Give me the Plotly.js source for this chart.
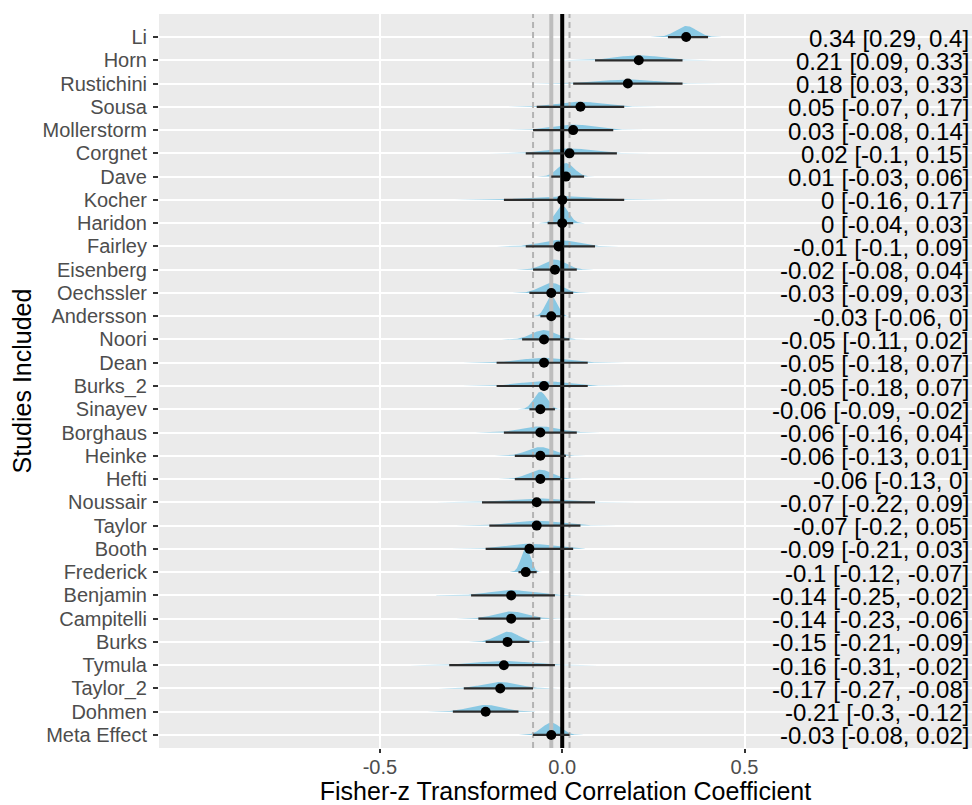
<!DOCTYPE html>
<html>
<head>
<meta charset="utf-8">
<script src="https://cdn.plot.ly/plotly-3.0.1.min.js"></script>
<style>html,body{margin:0;padding:0;background:#fff;}#chart{width:972px;height:805px;}</style>
</head>
<body>
<div id="chart"></div>
<script>
const studies = ["Li","Horn","Rustichini","Sousa","Mollerstorm","Corgnet","Dave","Kocher","Haridon","Fairley","Eisenberg","Oechssler","Andersson","Noori","Dean","Burks_2","Sinayev","Borghaus","Heinke","Hefti","Noussair","Taylor","Booth","Frederick","Benjamin","Campitelli","Burks","Tymula","Taylor_2","Dohmen","Meta Effect"];
const estimates = [0.34,0.21,0.18,0.05,0.03,0.02,0.01,0,0,-0.01,-0.02,-0.03,-0.03,-0.05,-0.05,-0.05,-0.06,-0.06,-0.06,-0.06,-0.07,-0.07,-0.09,-0.1,-0.14,-0.14,-0.15,-0.16,-0.17,-0.21,-0.03];
const lower = [0.29,0.09,0.03,-0.07,-0.08,-0.1,-0.03,-0.16,-0.04,-0.1,-0.08,-0.09,-0.06,-0.11,-0.18,-0.18,-0.09,-0.16,-0.13,-0.13,-0.22,-0.2,-0.21,-0.12,-0.25,-0.23,-0.21,-0.31,-0.27,-0.3,-0.08];
const upper = [0.4,0.33,0.33,0.17,0.14,0.15,0.06,0.17,0.03,0.09,0.04,0.03,0,0.02,0.07,0.07,-0.02,0.04,0.01,0,0.09,0.05,0.03,-0.07,-0.02,-0.06,-0.09,-0.02,-0.08,-0.12,0.02];
const xTicks = [-0.5, 0, 0.5];
const xTickText = ["-0.5", "0.0", "0.5"];

const n = studies.length;
const pos = studies.map((s, i) => n - i);
const metaIdx = n - 1;
const yRange = [0.44, 31.99];
const FONT = "Liberation Sans, Arial, Helvetica, sans-serif";
const densScale = 0.0335;

const traces = [];
// densities
for (let i = 0; i < n; i++) {
  const sd = (upper[i] - lower[i]) / 3.92;
  const xs = [], ys = [];
  const steps = 120;
  for (let k = 0; k <= steps; k++) {
    const x = estimates[i] - 3.5 * sd + (7 * sd) * k / steps;
    const z = (x - estimates[i]) / sd;
    const d = Math.exp(-0.5 * z * z) / (sd * Math.sqrt(2 * Math.PI));
    xs.push(x); ys.push(pos[i] + densScale * d);
  }
  xs.push(estimates[i] + 3.5 * sd, estimates[i] - 3.5 * sd);
  ys.push(pos[i], pos[i]);
  traces.push({x: xs, y: ys, type: "scatter", mode: "lines", fill: "toself",
    fillcolor: "rgba(128,196,226,0.92)", line: {width: 0, color: "rgba(0,0,0,0)"}, hoverinfo: "skip"});
}
// reference lines
const metaEst = estimates[metaIdx], metaLo = lower[metaIdx], metaHi = upper[metaIdx];
[metaLo, metaHi].forEach(v => traces.push({x: [v, v], y: yRange, type: "scatter", mode: "lines",
  line: {color: "#b3b3b3", width: 2, dash: "6px,4px"}, hoverinfo: "skip"}));
traces.push({x: [metaEst, metaEst], y: yRange, type: "scatter", mode: "lines",
  line: {color: "#bdbdbd", width: 4}, hoverinfo: "skip"});
traces.push({x: [0, 0], y: yRange, type: "scatter", mode: "lines",
  line: {color: "#000000", width: 4}, hoverinfo: "skip"});
// error bars
const ex = [], ey = [];
for (let i = 0; i < n; i++) { ex.push(lower[i], upper[i], null); ey.push(pos[i], pos[i], null); }
traces.push({x: ex, y: ey, type: "scatter", mode: "lines", line: {color: "#2b2b2b", width: 2.2}, hoverinfo: "skip"});
// points
traces.push({x: estimates, y: pos, type: "scatter", mode: "markers",
  marker: {color: "#000", size: 10, line: {width: 0}}, hoverinfo: "skip"});

const annotations = studies.map((s, i) => ({
  xref: "paper", x: 1, xanchor: "right", xshift: -1,
  yref: "y", y: pos[i], yanchor: "middle", yshift: -1,
  text: `${estimates[i]} [${lower[i]}, ${upper[i]}]`,
  showarrow: false, font: {family: FONT, size: 24, color: "#000"}
}));

const layout = {
  width: 972, height: 805,
  margin: {l: 159, r: 0, t: 14, b: 57, pad: 0},
  paper_bgcolor: "#ffffff", plot_bgcolor: "#EBEBEB",
  showlegend: false,
  font: {family: FONT},
  xaxis: {
    range: [-1.106, 1.124], tickvals: xTicks, ticktext: xTickText,
    showgrid: true, gridcolor: "#ffffff", gridwidth: 2, zeroline: false, showline: false,
    ticks: "outside", ticklen: 4, tickwidth: 2, tickcolor: "#333333",
    ticklabelstandoff: -3,
    tickfont: {family: FONT, size: 20, color: "#4d4d4d"},
    title: {text: "Fisher-z Transformed Correlation Coefficient", font: {family: FONT, size: 25, color: "#000"}, standoff: 0},
    fixedrange: true
  },
  yaxis: {
    range: yRange, tickvals: pos, ticktext: studies,
    showgrid: true, gridcolor: "#ffffff", gridwidth: 2, zeroline: false, showline: false,
    ticks: "outside", ticklen: 5, tickwidth: 2, tickcolor: "#333333",
    ticklabelstandoff: 2,
    tickfont: {family: FONT, size: 20, color: "#4d4d4d"},
    title: {text: "Studies Included", font: {family: FONT, size: 25, color: "#000"}, standoff: 3},
    fixedrange: true
  },
  annotations: annotations
};

Plotly.newPlot("chart", traces, layout, {displayModeBar: false, staticPlot: true});
</script>
</body>
</html>
